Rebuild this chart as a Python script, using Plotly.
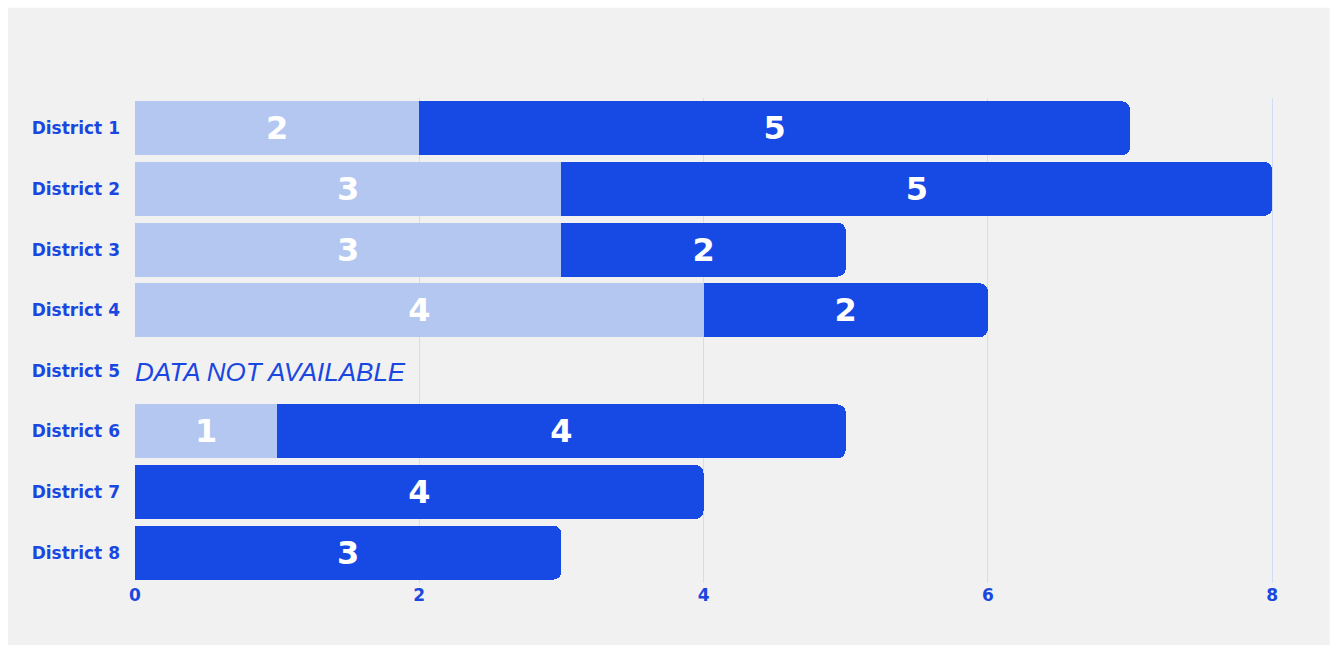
import plotly.graph_objects as go

districts = ["District 1", "District 2", "District 3", "District 4",
             "District 5", "District 6", "District 7", "District 8"]
light_vals = [2, 3, 3, 4, None, 1, 0, 0]
dark_vals = [5, 5, 2, 2, None, 4, 4, 3]
x_ticks = [0, 2, 4, 6, 8]

LIGHT = "#b3c7f0"
DARK = "#1749e5"
LABEL = "#1a47e0"
FONT = "DejaVu Sans"

def labels(vals):
    return [str(v) if v else "" for v in vals]

fig = go.Figure()
for vals, col in ((light_vals, LIGHT), (dark_vals, DARK)):
    fig.add_trace(go.Bar(y=districts, x=vals, orientation="h",
                         marker=dict(color=col, line=dict(width=0)),
                         text=labels(vals), textposition="inside",
                         insidetextanchor="middle",
                         textfont=dict(color="white", size=32, family=FONT, weight="bold"),
                         hoverinfo="skip", showlegend=False))

fig.add_annotation(x=0, y="District 5", xref="x", yref="y", text="<i>DATA NOT AVAILABLE</i>",
                   showarrow=False, xanchor="left", yanchor="middle", xshift=-2, yshift=-1,
                   font=dict(color=LABEL, size=26, family="Liberation Sans"))

fig.add_shape(type="rect", xref="paper", yref="paper", x0=-0.1114, x1=1.048, y0=-0.128, y1=1.186,
              fillcolor="#f1f1f1", line=dict(width=0), layer="below")

fig.update_layout(
    width=1337, height=649,
    margin=dict(l=135, r=62, t=98, b=66),
    paper_bgcolor="white", plot_bgcolor="rgba(0,0,0,0)",
    barmode="stack", bargap=0.11, barcornerradius=8,
    uniformtext=dict(mode="show", minsize=10),
    xaxis=dict(range=[0, 8.02], tickvals=x_ticks, showgrid=True, gridcolor="#d3dcf6", gridwidth=1,
               zeroline=False, showline=False, ticks="",
               tickfont=dict(color=LABEL, size=17, family=FONT, weight="bold")),
    yaxis=dict(autorange="reversed", showgrid=False, zeroline=False, showline=False,
               ticks="", ticklabelstandoff=14,
               tickfont=dict(color=LABEL, size=17, family=FONT, weight="bold")),
)

fig.write_html("out.html")
